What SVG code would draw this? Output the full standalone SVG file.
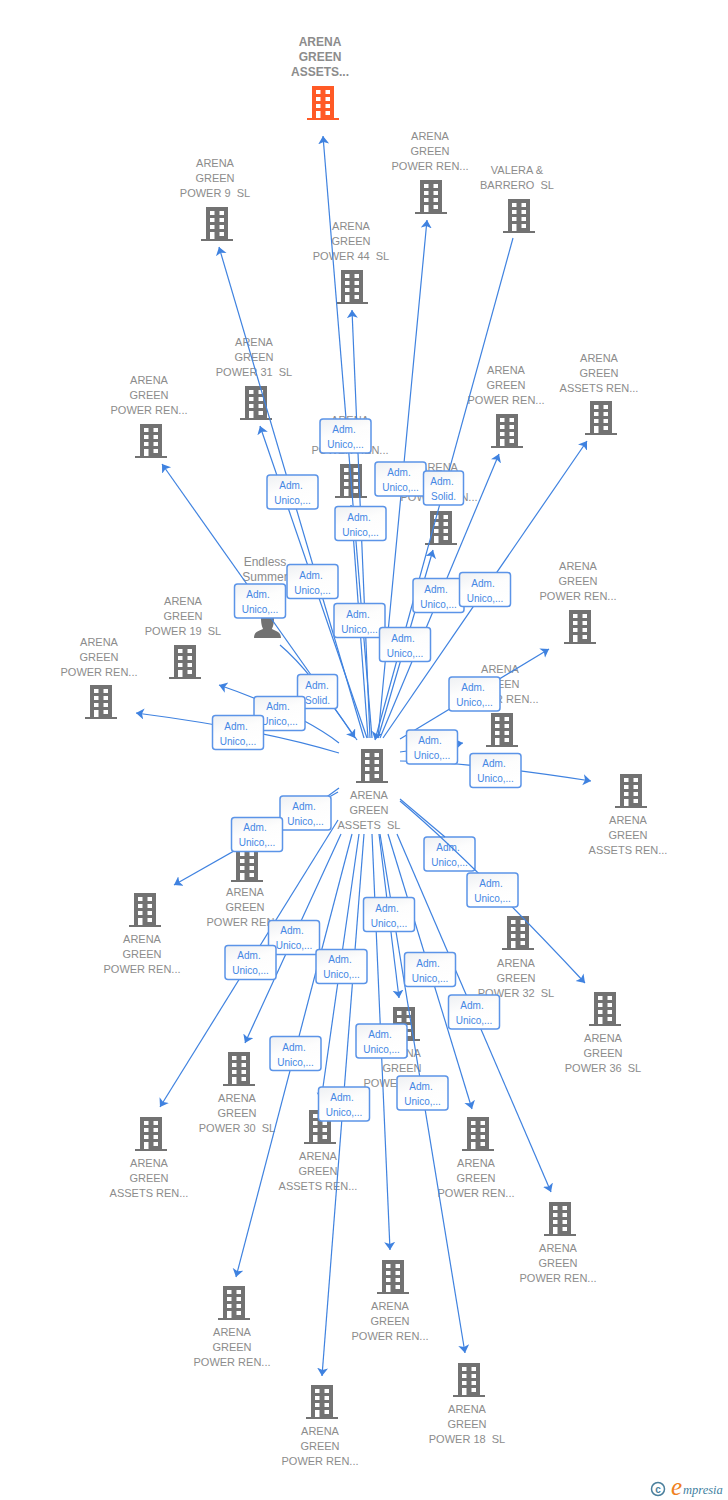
<svg xmlns="http://www.w3.org/2000/svg" width="728" height="1500" viewBox="0 0 728 1500">
<style>
text{font-family:"Liberation Sans",Arial,sans-serif;white-space:pre}
.n{font-size:11px;fill:#8c8c8c;text-anchor:middle}
.r{font-size:12px;font-weight:bold;fill:#8c8c8c;text-anchor:middle}
.t{font-size:12px;fill:#8c8c8c;text-anchor:middle}
.e path{fill:none;stroke:#3f82e0;stroke-width:1.2;marker-end:url(#a)}
.e path.x{marker-end:none}
.l rect{fill:url(#g);stroke:#5b94e8;stroke-width:1.5}
.l text{font-size:10px;fill:#4587e4;text-anchor:middle}
.b{fill:#727272}
.o{fill:#ff5a26}
</style>
<defs>
<linearGradient id="g" x1="0" y1="0" x2="0.4" y2="1"><stop offset="0" stop-color="#eef0f3"/><stop offset="0.5" stop-color="#fdfdfd"/><stop offset="1" stop-color="#ffffff"/></linearGradient>
<marker id="a" markerUnits="userSpaceOnUse" markerWidth="12" markerHeight="12" refX="8" refY="5.500" orient="auto"><path d="M8 5.500L0 0L2 5.500L0 11Z" fill="#3f82e0"/></marker>
<symbol id="bd" width="32" height="34" viewBox="0 0 32 34"><path fill-rule="evenodd" d="M5 0H27V32H32V34H0V32H5ZM9 4V8H13.500V4ZM18.500 4V8H23V4ZM9 11V15H13.500V11ZM18.500 11V15H23V11ZM9 18V22H13.500V18ZM18.500 18V22H23V18ZM9 25V32H13.500V25ZM18.500 25V29H23V25Z"/></symbol>
</defs>
<g id="nodes">
<g id="n-root" class="o"><use href="#bd" x="307" y="86"/><text class="r" x="320" y="46">ARENA</text><text class="r" x="320" y="61">GREEN</text><text class="r" x="320" y="76">ASSETS...</text></g>
<g id="n1" class="b"><use href="#bd" x="201" y="207"/><text class="n" x="215" y="167">ARENA</text><text class="n" x="215" y="182">GREEN</text><text class="n" x="215" y="197">POWER 9  SL</text></g>
<g id="n2" class="b"><use href="#bd" x="415" y="180"/><text class="n" x="430" y="140">ARENA</text><text class="n" x="430" y="155">GREEN</text><text class="n" x="430" y="170">POWER REN...</text></g>
<g id="n3" class="b"><use href="#bd" x="503" y="199"/><text class="n" x="517" y="174">VALERA &amp;</text><text class="n" x="517" y="189">BARRERO  SL</text></g>
<g id="n4" class="b"><use href="#bd" x="336" y="270"/><text class="n" x="351" y="230">ARENA</text><text class="n" x="351" y="245">GREEN</text><text class="n" x="351" y="260">POWER 44  SL</text></g>
<g id="n5" class="b"><use href="#bd" x="240" y="386"/><text class="n" x="254" y="346">ARENA</text><text class="n" x="254" y="361">GREEN</text><text class="n" x="254" y="376">POWER 31  SL</text></g>
<g id="n6" class="b"><use href="#bd" x="135" y="424"/><text class="n" x="149" y="384">ARENA</text><text class="n" x="149" y="399">GREEN</text><text class="n" x="149" y="414">POWER REN...</text></g>
<g id="n7" class="b"><use href="#bd" x="335" y="464"/><text class="n" x="350" y="424">ARENA</text><text class="n" x="350" y="439">GREEN</text><text class="n" x="350" y="454">POWER REN...</text></g>
<g id="n8" class="b"><use href="#bd" x="425" y="511"/><text class="n" x="439" y="471">ARENA</text><text class="n" x="439" y="486">GREEN</text><text class="n" x="439" y="501">POWER REN...</text></g>
<g id="n9" class="b"><use href="#bd" x="491" y="414"/><text class="n" x="506" y="374">ARENA</text><text class="n" x="506" y="389">GREEN</text><text class="n" x="506" y="404">POWER REN...</text></g>
<g id="n10" class="b"><use href="#bd" x="585" y="401"/><text class="n" x="599" y="362">ARENA</text><text class="n" x="599" y="377">GREEN</text><text class="n" x="599" y="392">ASSETS REN...</text></g>
<g id="n11" class="b"><use href="#bd" x="564" y="610"/><text class="n" x="578" y="570">ARENA</text><text class="n" x="578" y="585">GREEN</text><text class="n" x="578" y="600">POWER REN...</text></g>
<g id="n12" class="b"><use href="#bd" x="486" y="713"/><text class="n" x="500" y="673">ARENA</text><text class="n" x="500" y="688">GREEN</text><text class="n" x="500" y="703">POWER REN...</text></g>
<g id="n13" class="b"><use href="#bd" x="615" y="774"/><text class="n" x="628" y="824">ARENA</text><text class="n" x="628" y="839">GREEN</text><text class="n" x="628" y="854">ASSETS REN...</text></g>
<g id="n14" class="b"><path d="M261 618C261 626 263 628 263 629C258 631 254 632 254 638H281C281 632 276 631 272 629C272 628 274 626 274 618Z"/><text class="t" x="265" y="566">Endless</text><text class="t" x="265" y="581">Summer</text></g>
<g id="n15" class="b"><use href="#bd" x="169" y="645"/><text class="n" x="183" y="605">ARENA</text><text class="n" x="183" y="620">GREEN</text><text class="n" x="183" y="635">POWER 19  SL</text></g>
<g id="n16" class="b"><use href="#bd" x="85" y="685"/><text class="n" x="99" y="646">ARENA</text><text class="n" x="99" y="661">GREEN</text><text class="n" x="99" y="676">POWER REN...</text></g>
<g id="n-center" class="b"><use href="#bd" x="356" y="749"/><text class="n" x="369" y="799">ARENA</text><text class="n" x="369" y="814">GREEN</text><text class="n" x="369" y="829">ASSETS  SL</text></g>
<g id="n17" class="b"><use href="#bd" x="231" y="848"/><text class="n" x="245" y="896">ARENA</text><text class="n" x="245" y="911">GREEN</text><text class="n" x="245" y="926">POWER REN...</text></g>
<g id="n18" class="b"><use href="#bd" x="129" y="893"/><text class="n" x="142" y="943">ARENA</text><text class="n" x="142" y="958">GREEN</text><text class="n" x="142" y="973">POWER REN...</text></g>
<g id="n19" class="b"><use href="#bd" x="502" y="916"/><text class="n" x="516" y="967">ARENA</text><text class="n" x="516" y="982">GREEN</text><text class="n" x="516" y="997">POWER 32  SL</text></g>
<g id="n20" class="b"><use href="#bd" x="589" y="992"/><text class="n" x="603" y="1042">ARENA</text><text class="n" x="603" y="1057">GREEN</text><text class="n" x="603" y="1072">POWER 36  SL</text></g>
<g id="n21" class="b"><use href="#bd" x="223" y="1052"/><text class="n" x="237" y="1102">ARENA</text><text class="n" x="237" y="1117">GREEN</text><text class="n" x="237" y="1132">POWER 30  SL</text></g>
<g id="n22" class="b"><use href="#bd" x="135" y="1117"/><text class="n" x="149" y="1167">ARENA</text><text class="n" x="149" y="1182">GREEN</text><text class="n" x="149" y="1197">ASSETS REN...</text></g>
<g id="n23" class="b"><use href="#bd" x="304" y="1110"/><text class="n" x="318" y="1160">ARENA</text><text class="n" x="318" y="1175">GREEN</text><text class="n" x="318" y="1190">ASSETS REN...</text></g>
<g id="n24" class="b"><use href="#bd" x="388" y="1007"/><text class="n" x="402" y="1057">ARENA</text><text class="n" x="402" y="1072">GREEN</text><text class="n" x="402" y="1087">POWER REN...</text></g>
<g id="n25" class="b"><use href="#bd" x="462" y="1117"/><text class="n" x="476" y="1167">ARENA</text><text class="n" x="476" y="1182">GREEN</text><text class="n" x="476" y="1197">POWER REN...</text></g>
<g id="n26" class="b"><use href="#bd" x="544" y="1202"/><text class="n" x="558" y="1252">ARENA</text><text class="n" x="558" y="1267">GREEN</text><text class="n" x="558" y="1282">POWER REN...</text></g>
<g id="n27" class="b"><use href="#bd" x="377" y="1260"/><text class="n" x="390" y="1310">ARENA</text><text class="n" x="390" y="1325">GREEN</text><text class="n" x="390" y="1340">POWER REN...</text></g>
<g id="n28" class="b"><use href="#bd" x="218" y="1286"/><text class="n" x="232" y="1336">ARENA</text><text class="n" x="232" y="1351">GREEN</text><text class="n" x="232" y="1366">POWER REN...</text></g>
<g id="n29" class="b"><use href="#bd" x="306" y="1385"/><text class="n" x="320" y="1435">ARENA</text><text class="n" x="320" y="1450">GREEN</text><text class="n" x="320" y="1465">POWER REN...</text></g>
<g id="n30" class="b"><use href="#bd" x="453" y="1363"/><text class="n" x="467" y="1413">ARENA</text><text class="n" x="467" y="1428">GREEN</text><text class="n" x="467" y="1443">POWER 18  SL</text></g>
</g>
<g id="label-under" class="l"><rect x="424" y="837" width="51" height="34" rx="3"/><text x="448" y="851">Adm.</text><text x="449.500" y="866">Unico,...</text></g>
<g id="connectors" class="e">
<path d="M372 738L323 136"/>
<path d="M364 738L219 247"/>
<path d="M378 738L427 220"/>
<path d="M370 738L352 310"/>
<path d="M367 738L260 426"/>
<path d="M357 740L162 464"/>
<path d="M368 738L351 505"/>
<path d="M513 238L375 740"/>
<path d="M378 738L433 550"/>
<path d="M380 738L499 454"/>
<path d="M383 738L587 441"/>
<path d="M400 739L549 649"/>
<path d="M400 752L463 743"/>
<path d="M400 761Q470 762 591 781"/>
<path d="M280 645Q310 670 355 738"/>
<path d="M339 743Q300 713 219 685"/>
<path d="M339 753Q260 729 136 713"/>
<path d="M339 788L270 838"/>
<path d="M338 792L174 885"/>
<path d="M400 801Q470 860 585 983"/>
<path class="x" d="M400 799L445 837"/>
<path d="M338 820L160 1107"/>
<path d="M341 834L245 1043"/>
<path d="M352 834L236 1277"/>
<path d="M359 834L321 1101"/>
<path d="M364 834L322 1376"/>
<path d="M372 834L390 1250"/>
<path d="M379 834L399 998"/>
<path d="M380 834L465 1353"/>
<path d="M388 834L472 1109"/>
<path d="M397 834L551 1192"/>
</g>
<g id="labels">
<g class="l"><rect x="320" y="419" width="51" height="34" rx="3"/><text x="344" y="433">Adm.</text><text x="345.500" y="448">Unico,...</text></g>
<g class="l"><rect x="267" y="475" width="51" height="34" rx="3"/><text x="291" y="489">Adm.</text><text x="292.500" y="504">Unico,...</text></g>
<g class="l"><rect x="375" y="462" width="51" height="34" rx="3"/><text x="399" y="476">Adm.</text><text x="400.500" y="491">Unico,...</text></g>
<g class="l"><rect x="423.500" y="471" width="40" height="34" rx="3"/><text x="442" y="485">Adm.</text><text x="443.500" y="500">Solid.</text></g>
<g class="l"><rect x="335" y="506.500" width="51" height="34" rx="3"/><text x="359" y="521">Adm.</text><text x="360.500" y="536">Unico,...</text></g>
<g class="l"><rect x="287" y="564.500" width="51" height="34" rx="3"/><text x="311" y="579">Adm.</text><text x="312.500" y="594">Unico,...</text></g>
<g class="l"><rect x="234.500" y="584" width="51" height="34" rx="3"/><text x="258" y="598">Adm.</text><text x="260" y="613">Unico,...</text></g>
<g class="l"><rect x="334" y="603.500" width="51" height="34" rx="3"/><text x="358" y="618">Adm.</text><text x="359.500" y="633">Unico,...</text></g>
<g class="l"><rect x="413" y="578.500" width="51" height="34" rx="3"/><text x="436" y="593">Adm.</text><text x="438.500" y="608">Unico,...</text></g>
<g class="l"><rect x="459.500" y="572.500" width="51" height="34" rx="3"/><text x="483" y="587">Adm.</text><text x="485" y="602">Unico,...</text></g>
<g class="l"><rect x="379.500" y="627.500" width="51" height="34" rx="3"/><text x="403" y="642">Adm.</text><text x="405" y="657">Unico,...</text></g>
<g class="l"><rect x="449" y="677" width="51" height="34" rx="3"/><text x="473" y="691">Adm.</text><text x="474.500" y="706">Unico,...</text></g>
<g class="l"><rect x="297.500" y="674.500" width="40" height="34" rx="3"/><text x="317" y="689">Adm.</text><text x="317.500" y="704">Solid.</text></g>
<g class="l"><rect x="254" y="696.500" width="51" height="34" rx="3"/><text x="278" y="710">Adm.</text><text x="279.500" y="725">Unico,...</text></g>
<g class="l"><rect x="212.500" y="715.500" width="51" height="34" rx="3"/><text x="236" y="730">Adm.</text><text x="238" y="745">Unico,...</text></g>
<g class="l"><rect x="406.500" y="730" width="51" height="34" rx="3"/><text x="430" y="744">Adm.</text><text x="432" y="759">Unico,...</text></g>
<g class="l"><rect x="470" y="753.500" width="51" height="34" rx="3"/><text x="494" y="767">Adm.</text><text x="495.500" y="782">Unico,...</text></g>
<g class="l"><rect x="280" y="796" width="51" height="34" rx="3"/><text x="304" y="810">Adm.</text><text x="305.500" y="825">Unico,...</text></g>
<g class="l"><rect x="231.500" y="817.500" width="51" height="34" rx="3"/><text x="255" y="831">Adm.</text><text x="257" y="846">Unico,...</text></g>
<g class="l"><rect x="467" y="873" width="51" height="34" rx="3"/><text x="491" y="887">Adm.</text><text x="492.500" y="902">Unico,...</text></g>
<g class="l"><rect x="363.500" y="897.500" width="51" height="34" rx="3"/><text x="387" y="912">Adm.</text><text x="389" y="927">Unico,...</text></g>
<g class="l"><rect x="268.500" y="920.500" width="51" height="34" rx="3"/><text x="292" y="934">Adm.</text><text x="294" y="949">Unico,...</text></g>
<g class="l"><rect x="225" y="945.500" width="51" height="34" rx="3"/><text x="249" y="959">Adm.</text><text x="250.500" y="974">Unico,...</text></g>
<g class="l"><rect x="316" y="949.500" width="51" height="34" rx="3"/><text x="340" y="963">Adm.</text><text x="341.500" y="978">Unico,...</text></g>
<g class="l"><rect x="404.500" y="952.500" width="51" height="34" rx="3"/><text x="428" y="967">Adm.</text><text x="430" y="982">Unico,...</text></g>
<g class="l"><rect x="448.500" y="995" width="51" height="34" rx="3"/><text x="472" y="1009">Adm.</text><text x="474" y="1024">Unico,...</text></g>
<g class="l"><rect x="356" y="1024" width="51" height="34" rx="3"/><text x="380" y="1038">Adm.</text><text x="381.500" y="1053">Unico,...</text></g>
<g class="l"><rect x="270" y="1036.500" width="51" height="34" rx="3"/><text x="294" y="1051">Adm.</text><text x="295.500" y="1066">Unico,...</text></g>
<g class="l"><rect x="397" y="1076" width="51" height="34" rx="3"/><text x="421" y="1090">Adm.</text><text x="422.500" y="1105">Unico,...</text></g>
<g class="l"><rect x="318.500" y="1087" width="51" height="34" rx="3"/><text x="342" y="1101">Adm.</text><text x="344" y="1116">Unico,...</text></g>
</g>
<g id="logo">
<circle cx="658" cy="1489" r="6.500" fill="none" stroke="#4a7f9c" stroke-width="1.500"/>
<text x="658" y="1492.500" font-size="10" font-weight="bold" fill="#4a7f9c" text-anchor="middle">c</text>
<text x="671" y="1495" style="font-family:'Liberation Serif',serif" font-size="25" font-style="italic" fill="#f08020">e</text>
<text x="683" y="1494" style="font-family:'Liberation Serif',serif" font-size="12.500" font-style="italic" fill="#3f7f9f">mpresia</text>
</g>
</svg>
